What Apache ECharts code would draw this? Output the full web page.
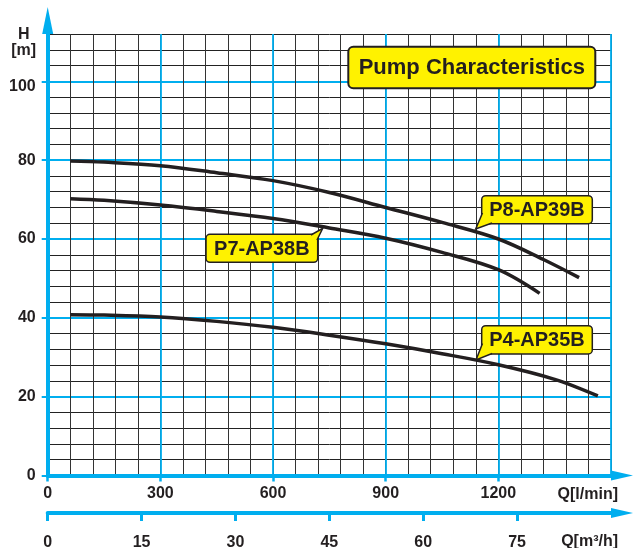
<!DOCTYPE html>
<html><head><meta charset="utf-8">
<script src="https://cdn.jsdelivr.net/npm/echarts@6/dist/echarts.min.js"></script>
<style>html,body{margin:0;padding:0;background:#fff}#c{width:634px;height:548px}</style>
</head><body><div id="c"></div>
<script>
// ---- data ----
const seriesNames = ['P8-AP39B', 'P7-AP38B', 'P4-AP35B'];
const p8Q = [60, 150, 300, 450, 600, 750, 900, 1050, 1200, 1320, 1415];
const p8H = [79.8, 79.5, 78.6, 76.8, 74.8, 71.8, 68.0, 64.2, 60.0, 54.8, 50.2];
const p7Q = [60, 150, 300, 450, 600, 750, 900, 1050, 1200, 1310];
const p7H = [70.2, 69.8, 68.6, 67.0, 65.2, 62.8, 60.2, 56.6, 52.2, 46.2];
const p4Q = [60, 150, 300, 450, 600, 750, 900, 1050, 1200, 1350, 1465];
const p4H = [40.8, 40.7, 40.2, 39.1, 37.6, 35.6, 33.4, 30.9, 28.1, 24.4, 20.2];
const headMin = 0, headMax = 112, headMajor = 20, headMinor = 4;
const flowMin = 0, flowMax = 1500, flowMajor = 300, flowMinor = 60;
const flowM3Max = 90, flowM3Step = 15;
const titleText = 'Pump Characteristics';
const yName = 'H\n[m]';
const xName = 'Q[l/min]';
const x2Name = 'Q[m³/h]';

// ---- style ----
const FONT = "'Liberation Sans', Arial, sans-serif";
const BLUE = '#00aeef';
const INK = '#231f20';
const YEL = '#fff200';

const pairs = (q, h) => q.map((v, i) => [v, h[i]]);

function callout(box, tail, text) {
  const els = [];
  els.push({ type: 'rect', z: 100, shape: { x: box.x, y: box.y, width: box.w, height: box.h, r: 4 },
    style: { fill: YEL, stroke: INK, lineWidth: 1.5 } });
  els.push({ type: 'polygon', z: 101, shape: { points: tail },
    style: { fill: YEL, stroke: null } });
  els.push({ type: 'polyline', z: 102, shape: { points: tail },
    style: { fill: null, stroke: INK, lineWidth: 1.5 } });
  els.push({ type: 'text', z: 103, x: box.x + box.w / 2, y: box.y + box.h / 2 + 1,
    style: { text: text, font: 'bold 20px ' + FONT, fill: INK, align: 'center', verticalAlign: 'middle' } });
  return els;
}

const chart = echarts.init(document.getElementById('c'), null, { renderer: 'canvas' });
const labelStyle = { fontFamily: FONT, fontWeight: 'bold', fontSize: 16, color: INK };

const option = {
  animation: false,
  backgroundColor: '#fff',
  grid: { left: 47.7, right: 23, top: 34, bottom: 72.5, containLabel: false, outerBoundsMode: 'none' },
  xAxis: [
    { type: 'value', min: flowMin, max: flowMax, interval: flowMinor, position: 'bottom',
      axisLine: { show: false }, axisTick: { show: false }, axisLabel: { show: false },
      splitLine: { show: true, lineStyle: { color: '#333', width: 1 } } },
    { type: 'value', min: flowMin, max: flowMax, interval: flowMajor, position: 'bottom',
      axisLine: { show: true, onZero: false, lineStyle: { color: BLUE, width: 4 },
        symbol: ['none', 'triangle'], symbolSize: [10, 22], symbolOffset: [0, 11] },
      axisTick: { show: true, length: 6, lineStyle: { color: BLUE, width: 2.5 } },
      axisLabel: Object.assign({ margin: 10, showMaxLabel: false,
        formatter: v => (v < flowMax ? String(v) : '') }, labelStyle),
      splitLine: { show: true, lineStyle: { color: BLUE, width: 1.8 } },
      name: xName, nameLocation: 'end', nameGap: 7,
      nameTextStyle: Object.assign({ align: 'right', verticalAlign: 'top', padding: [11, 0, 0, 0] }, labelStyle) },
    { type: 'value', min: 0, max: flowM3Max, interval: flowM3Step, position: 'bottom', offset: 37.5,
      axisLine: { show: true, onZero: false, lineStyle: { color: BLUE, width: 4 },
        symbol: ['none', 'triangle'], symbolSize: [10, 22], symbolOffset: [0, 11] },
      axisTick: { show: true, length: 8, lineStyle: { color: BLUE, width: 3 } },
      axisLabel: Object.assign({ margin: 22, showMaxLabel: false,
        formatter: v => (v < flowM3Max ? String(v) : '') }, labelStyle),
      splitLine: { show: false },
      name: x2Name, nameLocation: 'end', nameGap: 7,
      nameTextStyle: Object.assign({ align: 'right', verticalAlign: 'top', padding: [21, 0, 0, 0] }, labelStyle) }
  ],
  yAxis: [
    { type: 'value', min: headMin, max: headMax, interval: headMinor, position: 'left',
      axisLine: { show: false }, axisTick: { show: false }, axisLabel: { show: false },
      splitLine: { show: true, lineStyle: { color: '#222', width: 1 } } },
    { type: 'value', min: headMin, max: headMax, interval: headMajor, position: 'left', offset: 0,
      axisLine: { show: true, onZero: false, lineStyle: { color: BLUE, width: 4 },
        symbol: ['none', 'triangle'], symbolSize: [11, 27], symbolOffset: [0, 13.5] },
      axisTick: { show: true, length: 6, lineStyle: { color: BLUE, width: 2 } },
      axisLabel: Object.assign({ margin: 12, showMaxLabel: false,
        formatter: v => (v % headMajor !== 0 ? '' : (v === 100 ? '{low|' + v + '}' : String(v))),
        rich: { low: Object.assign({ padding: [10, 0, 0, 0] }, labelStyle) } }, labelStyle),
      splitLine: { show: true, showMaxLine: false, lineStyle: { color: BLUE, width: 1.8 } },
      name: yName, nameLocation: 'end', nameGap: 7,
      nameTextStyle: Object.assign({ align: 'center', verticalAlign: 'top', lineHeight: 16,
        padding: [0, 48, 0, 0] }, labelStyle) }
  ],
  series: [
    { name: seriesNames[0], type: 'line', xAxisIndex: 1, yAxisIndex: 1, data: pairs(p8Q, p8H) },
    { name: seriesNames[1], type: 'line', xAxisIndex: 1, yAxisIndex: 1, data: pairs(p7Q, p7H) },
    { name: seriesNames[2], type: 'line', xAxisIndex: 1, yAxisIndex: 1, data: pairs(p4Q, p4H) }
  ].map(s => Object.assign(s, { symbol: 'none', smooth: 0.35, z: 5,
    lineStyle: { color: INK, width: 3.5 } })),
  graphic: { elements: [
    { type: 'rect', z: 100, shape: { x: 348.3, y: 46.7, width: 247, height: 41.5, r: 5 },
      style: { fill: YEL, stroke: INK, lineWidth: 2 } },
    { type: 'text', z: 101, x: 471.8, y: 68,
      style: { text: titleText, font: 'bold 22px ' + FONT, fill: INK, align: 'center', verticalAlign: 'middle' } },
    ...callout({ x: 481.7, y: 195.7, w: 110.6, h: 28 }, [[482.5, 213], [475.7, 229], [492, 223]], seriesNames[0]),
    ...callout({ x: 206, y: 234.3, w: 111.7, h: 28 }, [[311, 235], [322.7, 228.3], [317, 240]], seriesNames[1]),
    ...callout({ x: 481.7, y: 325.7, w: 110.6, h: 28.3 }, [[482.5, 343.5], [476, 360], [492, 353.5]], seriesNames[2])
  ] }
};
chart.setOption(option);
</script>
</body></html>
